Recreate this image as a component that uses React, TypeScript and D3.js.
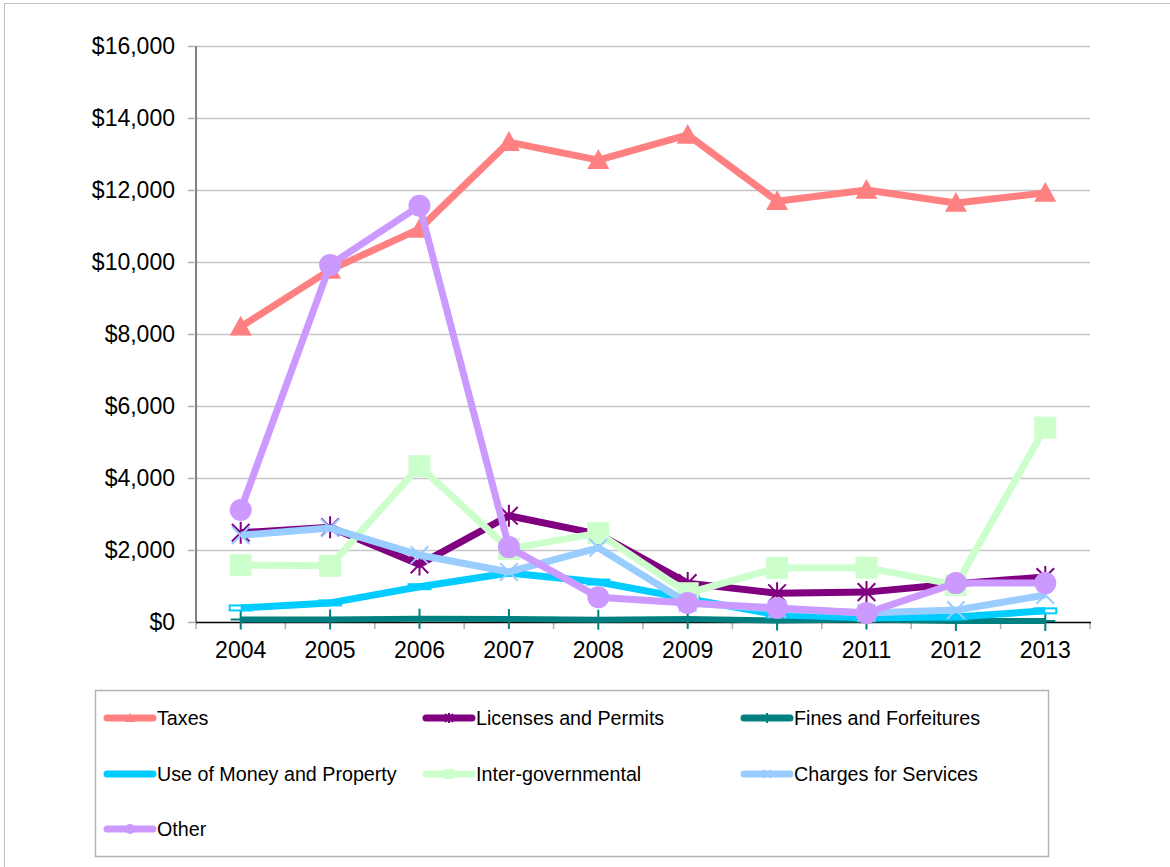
import React, { useEffect, useRef } from 'react';
import * as d3 from 'd3';

const years = ['2004', '2005', '2006', '2007', '2008', '2009', '2010', '2011', '2012', '2013'];

const taxes = [8200, 9780, 10920, 13330, 12830, 13530, 11690, 12000, 11640, 11920];
const licenses = [2480, 2630, 1600, 2950, 2440, 1080, 800, 830, 1060, 1250];
const fines = [70, 70, 90, 80, 60, 80, 40, 70, 30, 30];
const useOfMoney = [390, 530, 980, 1360, 1110, 650, 200, 120, 140, 310];
const interGov = [1580, 1560, 4330, 2030, 2470, 800, 1500, 1510, 1030, 5400];
const charges = [2410, 2610, 1860, 1390, 2060, 530, 360, 250, 330, 750];
const other = [3110, 9920, 11560, 2080, 690, 530, 390, 250, 1080, 1080];

const yTicks = [0, 2000, 4000, 6000, 8000, 10000, 12000, 14000, 16000];

type Marker = 'triangle' | 'asterisk' | 'plus' | 'dash' | 'square' | 'x' | 'circle';

interface Series {
  name: string;
  values: number[];
  color: string;
  marker: Marker;
}

const series: Series[] = [
  { name: 'Taxes', values: taxes, color: '#FF8080', marker: 'triangle' },
  { name: 'Licenses and Permits', values: licenses, color: '#800080', marker: 'asterisk' },
  { name: 'Fines and Forfeitures', values: fines, color: '#008080', marker: 'plus' },
  { name: 'Use of Money and Property', values: useOfMoney, color: '#00CCFF', marker: 'dash' },
  { name: 'Inter-governmental', values: interGov, color: '#CCFFCC', marker: 'square' },
  { name: 'Charges for Services', values: charges, color: '#99CCFF', marker: 'x' },
  { name: 'Other', values: other, color: '#CC99FF', marker: 'circle' },
];

const W = 1170;
const H = 867;
const FONT = '"Liberation Sans", Arial, sans-serif';

// draws one marker centred on 0,0 into g
function drawMarker(g: d3.Selection<SVGGElement, unknown, null, undefined>, kind: Marker, color: string, s: number) {
  const h = s / 2;
  if (kind === 'triangle') {
    g.append('path').attr('d', `M0,${-h}L${h},${h * 0.8}L${-h},${h * 0.8}Z`).attr('fill', color);
  } else if (kind === 'square') {
    g.append('rect').attr('x', -h).attr('y', -h).attr('width', s).attr('height', s).attr('fill', color);
  } else if (kind === 'circle') {
    g.append('circle').attr('r', h).attr('fill', color);
  } else if (kind === 'x') {
    const k = h * 0.8;
    g.append('path').attr('d', `M${-k},${-k}L${k},${k}M${-k},${k}L${k},${-k}`)
      .attr('stroke', color).attr('stroke-width', 2);
  } else if (kind === 'asterisk') {
    const k = h * 0.8;
    g.append('path').attr('d', `M${-k},${-k}L${k},${k}M${-k},${k}L${k},${-k}M0,${-h}L0,${h}`)
      .attr('stroke', color).attr('stroke-width', 2);
  } else if (kind === 'plus') {
    g.append('path').attr('d', `M${-h},0L${h},0M0,${-h}L0,${h}`)
      .attr('stroke', color).attr('stroke-width', 2);
  } else if (kind === 'dash') {
    g.append('rect').attr('x', -h).attr('y', -2.5).attr('width', s).attr('height', 5)
      .attr('fill', '#fff').attr('stroke', color).attr('stroke-width', 2);
  }
}

const App: React.FC = () => {
  const svgRef = useRef<SVGSVGElement | null>(null);

  useEffect(() => {
    if (!svgRef.current) return;
    const svg = d3.select(svgRef.current);
    svg.selectAll('*').remove();

    // outer chart frame
    svg.append('rect').attr('x', 4.5).attr('y', 3.5).attr('width', W).attr('height', H)
      .attr('fill', '#fff').attr('stroke', '#c0c0c0');

    const x = d3.scaleBand<string>().domain(years).range([196, 1090]);
    const cx = (yr: string) => (x(yr) ?? 0) + x.bandwidth() / 2;
    const y = d3.scaleLinear().domain([0, 16000]).range([622, 46]);

    // gridlines
    svg.append('g').selectAll('line').data(yTicks.slice(1)).enter().append('line')
      .attr('x1', 196).attr('x2', 1090)
      .attr('y1', d => y(d) + 0.5).attr('y2', d => y(d) + 0.5)
      .attr('stroke', '#c6c6c6').attr('stroke-width', 1.5);

    // y axis
    const yAxis = d3.axisLeft(y).tickValues(yTicks).tickSize(8).tickPadding(13)
      .tickFormat(d => d3.format('$,')(d as number));
    const gy = svg.append('g').attr('transform', 'translate(196,0)').call(yAxis);
    gy.select('.domain').attr('stroke', '#000').attr('d', `M0,${y(16000)}V${y(0)}`);
    gy.selectAll('.tick line').attr('stroke', '#b0b0b0').attr('stroke-width', 1.5);
    gy.selectAll('.tick text').attr('font-family', FONT).attr('font-size', 23).attr('fill', '#000');

    // x axis: ticks between categories
    const gx = svg.append('g');
    const bounds = [...years.map(yr => x(yr) ?? 0), 1090];
    gx.selectAll('line.tk').data(bounds).enter().append('line')
      .attr('x1', d => d).attr('x2', d => d).attr('y1', 622).attr('y2', 629)
      .attr('stroke', '#b0b0b0').attr('stroke-width', 1.5);
    gx.append('line').attr('x1', 196).attr('x2', 1091).attr('y1', 622.5).attr('y2', 622.5)
      .attr('stroke', '#000').attr('stroke-width', 1.5);
    gx.selectAll('text').data(years).enter().append('text')
      .attr('x', d => cx(d)).attr('y', 658)
      .attr('text-anchor', 'middle').attr('font-family', FONT).attr('font-size', 23)
      .text(d => d);

    const line = d3.line<number>().x((_, i) => cx(years[i])).y(d => y(d));

    series.forEach(s => {
      const g = svg.append('g');
      const lw = s.marker === 'plus' ? 6 : 7;
      if (s.marker === 'dash') {
        s.values.forEach((v, i) => {
          const m = g.append('g').attr('transform', `translate(${cx(years[i])},${y(v)})`);
          drawMarker(m, s.marker, s.color, 22);
        });
      }
      g.append('path').datum(s.values).attr('d', line)
        .attr('fill', 'none').attr('stroke', s.color).attr('stroke-width', lw)
        .attr('stroke-linejoin', 'round');
      if (s.marker !== 'dash') {
        s.values.forEach((v, i) => {
          const m = g.append('g').attr('transform', `translate(${cx(years[i])},${y(v)})`);
          drawMarker(m, s.marker, s.color, s.marker === 'plus' ? 20 : 22);
        });
      }
    });

    // legend
    const lg = svg.append('g');
    lg.append('rect').attr('x', 95.5).attr('y', 690.5).attr('width', 953).attr('height', 166)
      .attr('fill', '#fff').attr('stroke', '#b4b4b4').attr('stroke-width', 1.5);
    const colX = [105, 424, 742];
    const rowY = [718, 774, 829];
    series.forEach((s, i) => {
      const lx = colX[i % 3];
      const ly = rowY[Math.floor(i / 3)];
      const item = lg.append('g').attr('transform', `translate(${lx},${ly})`);
      item.append('line').attr('x1', 2).attr('x2', 48).attr('y1', 0).attr('y2', 0)
        .attr('stroke', s.color).attr('stroke-width', 7).attr('stroke-linecap', 'round');
      if (s.marker !== 'dash') {
        const m = item.append('g').attr('transform', 'translate(25,0)');
        drawMarker(m, s.marker, s.color, 10);
      }
      item.append('text').attr('x', 52).attr('y', 7).attr('font-family', FONT)
        .attr('font-size', 19.7).text(s.name);
    });
  }, []);

  return (
    <svg ref={svgRef} width={W} height={H}
      style={{ position: 'absolute', left: 0, top: 0, background: '#fff' }} />
  );
};

export default App;
